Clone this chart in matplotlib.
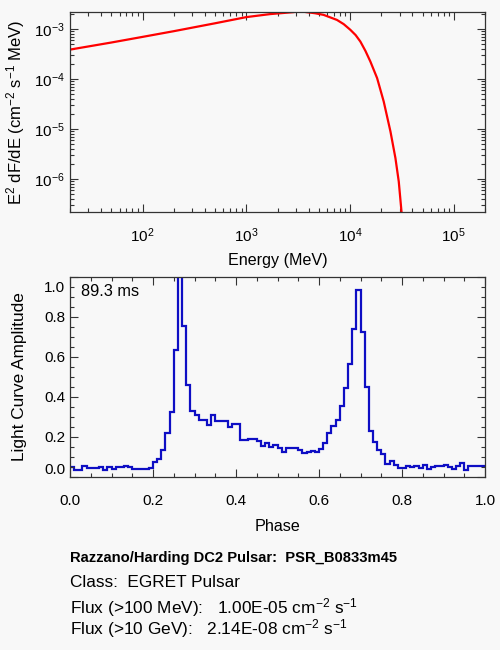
import numpy as np
import matplotlib
matplotlib.use("Agg")
import matplotlib.pyplot as plt
from matplotlib.ticker import LogLocator, MultipleLocator, NullFormatter
from matplotlib.transforms import ScaledTranslation

# --------------------------------------------------
# Data
# --------------------------------------------------

energy_mev = [20, 50, 100, 200, 500, 1000, 1700, 2860, 3300, 3790, 4610,
              5560, 7480, 8690, 10070, 11330, 12580, 14070, 15710, 18240,
              21130, 24540, 27400, 29500, 31340, 32500]

e2_dfde = [3.9e-4, 5.4e-4, 7.0e-4, 9.1e-4, 1.31e-3, 1.74e-3, 2.0e-3,
           2.19e-3, 2.3e-3, 2.19e-3, 2.08e-3, 1.93e-3, 1.53e-3, 1.26e-3,
           9.7e-4, 7.6e-4, 5.65e-4, 3.68e-4, 2.25e-4, 1.05e-4, 3.56e-5,
           8.95e-6, 2.63e-6, 8.95e-7, 2.25e-7, 1.2e-7]

phase_edges = np.linspace(0.0, 1.0, 101)

light_curve = [
    0.05, 0.036, 0.036, 0.056, 0.043, 0.043, 0.045, 0.05, 0.036, 0.051,
    0.04, 0.05, 0.05, 0.056, 0.05, 0.04, 0.04, 0.041, 0.041, 0.045,
    0.075, 0.09, 0.135, 0.22, 0.323, 0.637, 1.05, 0.756, 0.458, 0.328,
    0.312, 0.283, 0.283, 0.258, 0.31, 0.278, 0.278, 0.278, 0.25, 0.267,
    0.267, 0.183, 0.183, 0.19, 0.19, 0.178, 0.155, 0.17, 0.15, 0.16,
    0.145, 0.123, 0.145, 0.145, 0.145, 0.133, 0.12, 0.123, 0.131, 0.123,
    0.14, 0.17, 0.22, 0.253, 0.286, 0.356, 0.445, 0.565, 0.74, 0.933,
    0.723, 0.45, 0.228, 0.173, 0.137, 0.117, 0.066, 0.078, 0.061, 0.045,
    0.045, 0.056, 0.05, 0.056, 0.045, 0.061, 0.04, 0.05, 0.053, 0.053,
    0.058, 0.05, 0.04, 0.053, 0.07, 0.033, 0.053, 0.053, 0.053, 0.053,
]

period_label = "89.3 ms"

info_lines = [
    ("Razzano/Harding DC2 Pulsar:  PSR_B0833m45", "bold", 10.6),
    ("Class:  EGRET Pulsar", "normal", 12.4),
    ("Flux (>100 MeV):   1.00E-05 cm$^{-2}$ s$^{-1}$", "normal", 12.4),
    ("Flux (>10 GeV):   2.14E-08 cm$^{-2}$ s$^{-1}$", "normal", 12.4),
]

# --------------------------------------------------
# Style
# --------------------------------------------------

BG = "#f8f8f8"

plt.rcParams["font.family"] = ["Liberation Sans", "DejaVu Sans"]
plt.rcParams["font.size"] = 11
plt.rcParams["mathtext.fontset"] = "custom"
plt.rcParams["mathtext.rm"] = "Liberation Sans"
plt.rcParams["mathtext.it"] = "Liberation Sans:italic"
plt.rcParams["mathtext.bf"] = "Liberation Sans:bold"

fig = plt.figure(figsize=(5, 6.5), dpi=100, facecolor=BG)

ax_spec = fig.add_axes([0.14, 0.6738, 0.83, 0.3077], facecolor=BG)
ax_lc = fig.add_axes([0.14, 0.2662, 0.83, 0.3077], facecolor=BG)


def style_ticks(ax, xpad):
    ax.tick_params(which="both", direction="in", top=True, right=True,
                   colors="#333333", labelcolor="black", labelsize=11)
    ax.tick_params(which="major", length=6, width=0.8)
    ax.tick_params(which="minor", length=3, width=0.8)
    ax.tick_params(axis="x", which="major", pad=xpad)
    for spine in ax.spines.values():
        spine.set_color("#333333")
        spine.set_linewidth(0.9)


# --------------------------------------------------
# Spectrum
# --------------------------------------------------

ax_spec.plot(energy_mev, e2_dfde, color="red", linewidth=1.6)
ax_spec.set_xscale("log")
ax_spec.set_yscale("log")
ax_spec.set_xlim(20, 2e5)
ax_spec.set_ylim(2.2e-7, 2.2e-3)

ax_spec.xaxis.set_major_locator(LogLocator(base=10, numticks=10))
ax_spec.xaxis.set_minor_locator(LogLocator(base=10, subs=np.arange(2, 10), numticks=20))
ax_spec.xaxis.set_minor_formatter(NullFormatter())
ax_spec.yaxis.set_major_locator(LogLocator(base=10, numticks=10))
ax_spec.yaxis.set_minor_locator(LogLocator(base=10, subs=np.arange(2, 10), numticks=20))
ax_spec.yaxis.set_minor_formatter(NullFormatter())
style_ticks(ax_spec, 10)

ax_spec.set_xlabel("Energy (MeV)", fontsize=11.6, labelpad=6)
ax_spec.set_ylabel("E$^2$ dF/dE (cm$^{-2}$ s$^{-1}$ MeV)", fontsize=12, labelpad=5)

# --------------------------------------------------
# Light curve
# --------------------------------------------------

ax_lc.stairs(light_curve, phase_edges, baseline=None,
             color="#0e0ec4", linewidth=1.6)
ax_lc.set_xlim(0, 1)
ax_lc.set_ylim(0, 1.0)
ax_lc.xaxis.set_major_locator(MultipleLocator(0.2))
ax_lc.xaxis.set_minor_locator(MultipleLocator(0.05))
ax_lc.yaxis.set_major_locator(MultipleLocator(0.2))
ax_lc.yaxis.set_minor_locator(MultipleLocator(0.05))
ax_lc.xaxis.set_major_formatter(lambda v, pos: f"{v:.1f}")
ax_lc.yaxis.set_major_formatter(lambda v, pos: f"{v:.1f}")
style_ticks(ax_lc, 12)

ax_lc.set_xlabel("Phase", fontsize=11.6, labelpad=8)
ax_lc.set_ylabel("Light Curve Amplitude", fontsize=12.4, labelpad=12)

ax_lc.text(0.026, 0.965, period_label, transform=ax_lc.transAxes,
           ha="left", va="top", fontsize=11.8)

# --------------------------------------------------
# Source info
# --------------------------------------------------

line_y = [562, 587, 613, 634]

for (text, weight, size), y in zip(info_lines, line_y):
    fig.text(70 / 500, 1 - y / 650, text, ha="left", va="baseline",
             fontsize=size, fontweight=weight)

# end labels of the light-curve y axis sit inside the frame
fig.canvas.draw()
for tick in ax_lc.yaxis.get_major_ticks():
    loc = tick.get_loc()
    if abs(loc) < 1e-6:
        shift = ScaledTranslation(0, 6 / 72, fig.dpi_scale_trans)
    elif abs(loc - 1.0) < 1e-6:
        shift = ScaledTranslation(0, -7 / 72, fig.dpi_scale_trans)
    else:
        continue
    tick.label1.set_transform(tick.label1.get_transform() + shift)

fig.savefig("out.png", dpi=100, facecolor=BG)
